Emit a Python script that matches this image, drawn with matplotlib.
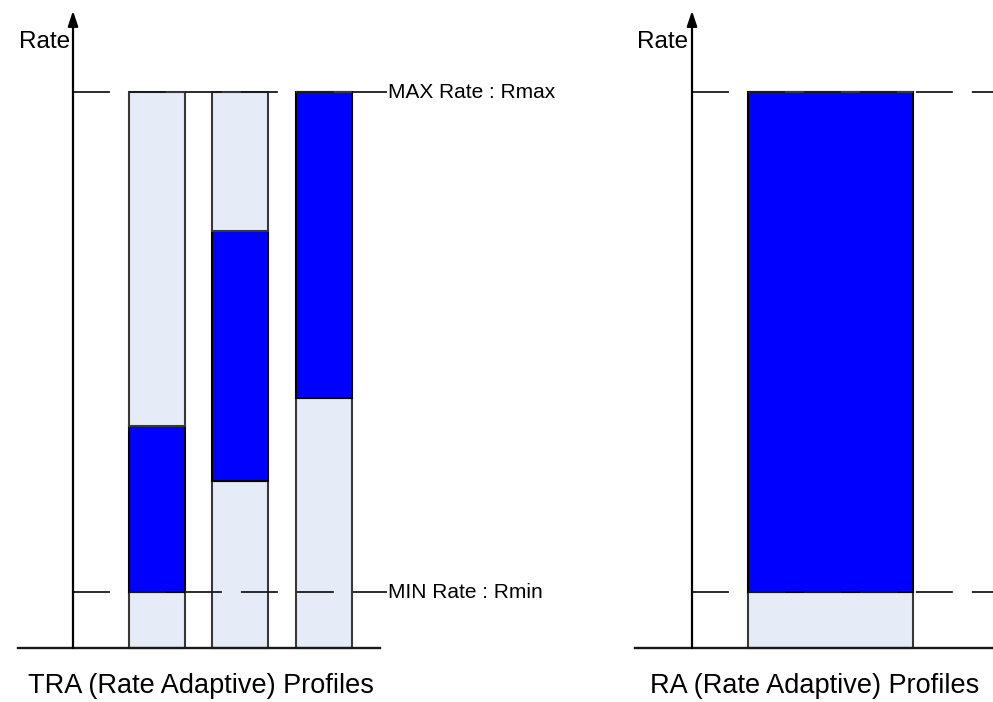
import matplotlib
matplotlib.use("Agg")
import matplotlib.pyplot as plt

plt.rcParams.update({"font.family": ["Liberation Sans", "DejaVu Sans"], "lines.scale_dashes": False})

LIGHT = "#e6ecf7"; BLUE = "#0000ff"; INK = "#1a1a1a"

# rate levels (normalised, Rmax = 1)
RMIN, RMAX = 0.10, 1.00
# TRA profiles: blue band from low to high
tra_low = [0.10, 0.30, 0.45]
tra_high = [0.40, 0.75, 1.00]
# RA profile
ra_low = [0.10]
ra_high = [1.00]

W, H = 993, 702
fig = plt.figure(figsize=(W / 100, H / 100), dpi=100)

DASH = (0, (26.6, 13.7))


def panel(rect, xlim, xs, width, low, high, base, dash_end, lab_x, label, side_text):
    ax = fig.add_axes(rect)
    ax.set_xlim(*xlim); ax.set_ylim(-54 / 556, 648 / 556); ax.axis("off")
    top = [RMAX - h for h in high]
    ax.bar(xs, low, width, color=LIGHT, edgecolor="#383838", lw=1.5, zorder=2)
    ax.bar(xs, [h - l for l, h in zip(low, high)], width, bottom=low, color=BLUE, edgecolor="black", lw=1.5, zorder=2)
    ax.bar(xs, top, width, bottom=high, color=LIGHT, edgecolor="#383838", lw=1.5, zorder=2)
    for lvl in (RMIN, RMAX):
        ax.plot([0, dash_end], [lvl, lvl], ls=DASH, color=INK, lw=1.3, zorder=3)
    ax.plot(base, [0, 0], color=INK, lw=1.7, zorder=3)
    ax.annotate("", xy=(0, 1.146), xytext=(0, 0),
                arrowprops=dict(arrowstyle="-|>,head_length=0.9,head_width=0.3", color="black", lw=1.6, shrinkA=0, shrinkB=0))
    ax.text(-0.03, 1.09, "Rate", ha="right", va="center", fontsize=17.5)
    ax.text(lab_x, -0.068, label, ha="center", va="center", fontsize=19.5)
    if side_text:
        ax.text(dash_end + 0.01, RMAX, "MAX Rate : Rmax", ha="left", va="center", fontsize=15)
        ax.text(dash_end + 0.01, RMIN, "MIN Rate : Rmin", ha="left", va="center", fontsize=15)
    return ax


# left: 1 unit = 83.5 px, y axis at px 73
u = 83.5
panel([0, 0, 496 / W, 1], (-73 / u, (496 - 73) / u), [1, 2, 3], 56 / u,
      tra_low, tra_high, [(18 - 73) / u, (380 - 73) / u], (387 - 73) / u,
      (201 - 73) / u, "TRA (Rate Adaptive) Profiles", True)

# right: 1 unit = 138.5 px, y axis at px 692
u = 138.5
panel([496 / W, 0, 497 / W, 1], ((496 - 692) / u, (993 - 692) / u), [1], 165 / u,
      ra_low, ra_high, [(635 - 692) / u, (1000 - 692) / u], (1000 - 692) / u,
      (815 - 692) / u, "RA (Rate Adaptive) Profiles", False)

fig.savefig("out.png", dpi=100)
